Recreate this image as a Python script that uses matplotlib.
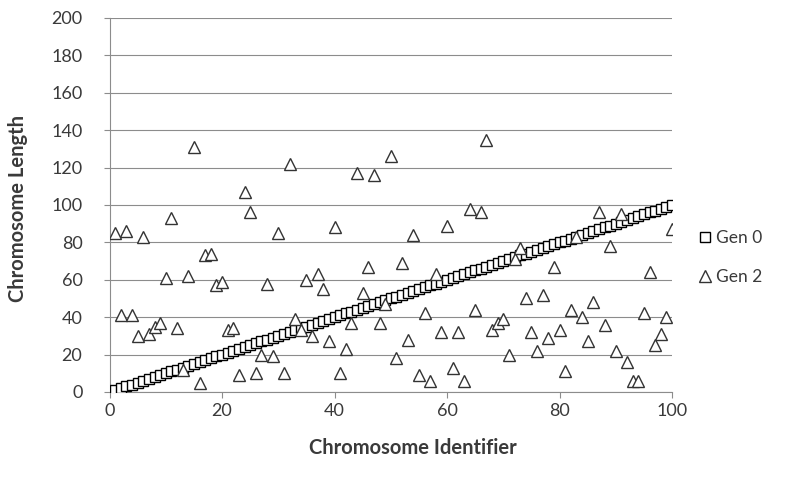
"""
Chromosome length by identifier, generation 0 vs generation 2
"""

import matplotlib
matplotlib.use("Agg")
import matplotlib.pyplot as plt

# chromosome identifiers 1..100
chrom_id = [
    1, 2, 3, 4, 5, 6, 7, 8, 9, 10, 11, 12, 13, 14, 15, 16, 17, 18, 19, 20,
    21, 22, 23, 24, 25, 26, 27, 28, 29, 30, 31, 32, 33, 34, 35, 36, 37, 38, 39, 40,
    41, 42, 43, 44, 45, 46, 47, 48, 49, 50, 51, 52, 53, 54, 55, 56, 57, 58, 59, 60,
    61, 62, 63, 64, 65, 66, 67, 68, 69, 70, 71, 72, 73, 74, 75, 76, 77, 78, 79, 80,
    81, 82, 83, 84, 85, 86, 87, 88, 89, 90, 91, 92, 93, 94, 95, 96, 97, 98, 99, 100,
]

gen0_length = [
    1, 2, 3, 4, 5, 6, 7, 8, 9, 10, 11, 12, 13, 14, 15, 16, 17, 18, 19, 20,
    21, 22, 23, 24, 25, 26, 27, 28, 29, 30, 31, 32, 33, 34, 35, 36, 37, 38, 39, 40,
    41, 42, 43, 44, 45, 46, 47, 48, 49, 50, 51, 52, 53, 54, 55, 56, 57, 58, 59, 60,
    61, 62, 63, 64, 65, 66, 67, 68, 69, 70, 71, 72, 73, 74, 75, 76, 77, 78, 79, 80,
    81, 82, 83, 84, 85, 86, 87, 88, 89, 90, 91, 92, 93, 94, 95, 96, 97, 98, 99, 100,
]

gen2_length = [
    85, 41, 86, 41, 30, 83, 31, 35, 37, 61, 93, 34, 12, 62, 131, 5, 73, 74, 57, 59,
    33, 34, 9, 107, 96, 10, 20, 58, 19, 85, 10, 122, 39, 33, 60, 30, 63, 55, 27, 88,
    10, 23, 37, 117, 53, 67, 116, 37, 47, 126, 18, 69, 28, 84, 9, 42, 6, 63, 32, 89,
    13, 32, 6, 98, 44, 96, 135, 33, 37, 39, 20, 71, 77, 50, 32, 22, 52, 29, 67, 33,
    11, 44, 83, 40, 27, 48, 96, 36, 78, 22, 95, 16, 6, 6, 42, 64, 25, 31, 40, 87,
]

series_names = ["Gen 0", "Gen 2"]
x_ticks = [0, 20, 40, 60, 80, 100]
y_ticks = [0, 20, 40, 60, 80, 100, 120, 140, 160, 180, 200]

plt.rcParams['font.family'] = ['Lato', 'DejaVu Sans']
GRID = '#8c8c8c'
TXT = '#3a3a3a'

fig = plt.figure(figsize=(8.03, 4.93), dpi=100)
ax = fig.add_axes([0.1364, 0.2049, 0.7005, 0.7586])

ax.plot(chrom_id, gen0_length, linestyle='none', marker='s', markersize=7.2,
        markerfacecolor='white', markeredgecolor='black', markeredgewidth=1.0,
        label=series_names[0], zorder=3)
ax.plot(chrom_id, gen2_length, linestyle='none', marker='^', markersize=8.5,
        markerfacecolor='white', markeredgecolor='#333333', markeredgewidth=1.0,
        label=series_names[1], zorder=4)

ax.set_xlim(0, 100)
ax.set_ylim(0, 200)
ax.set_xticks(x_ticks)
ax.set_yticks(y_ticks)
ax.yaxis.grid(True, color=GRID, linewidth=0.8)
ax.set_axisbelow(True)

for side in ['top', 'right']:
    ax.spines[side].set_visible(False)
for side in ['left', 'bottom']:
    ax.spines[side].set_color(GRID)
    ax.spines[side].set_linewidth(0.8)
ax.tick_params(axis='both', direction='out', length=4, width=0.8, color=GRID,
               labelsize=13, labelcolor=TXT)
ax.tick_params(axis='y', pad=15.5)
ax.tick_params(axis='x', pad=4)

ax.set_xlabel("Chromosome Identifier", fontsize=14.5, fontweight='bold', color=TXT, va='center')
ax.xaxis.set_label_coords(0.54, -0.150)
ax.set_ylabel("Chromosome Length", fontsize=14.5, fontweight='bold', color=TXT, va='center')
ax.yaxis.set_label_coords(-0.163, 0.49)

fig.legend(loc='center left', bbox_to_anchor=(0.85, 0.478), frameon=False,
           fontsize=12.5, labelcolor=TXT, handlelength=0.8, handletextpad=0.2,
           labelspacing=1.3, markerscale=0.95)

fig.savefig("out.png", dpi=100)
